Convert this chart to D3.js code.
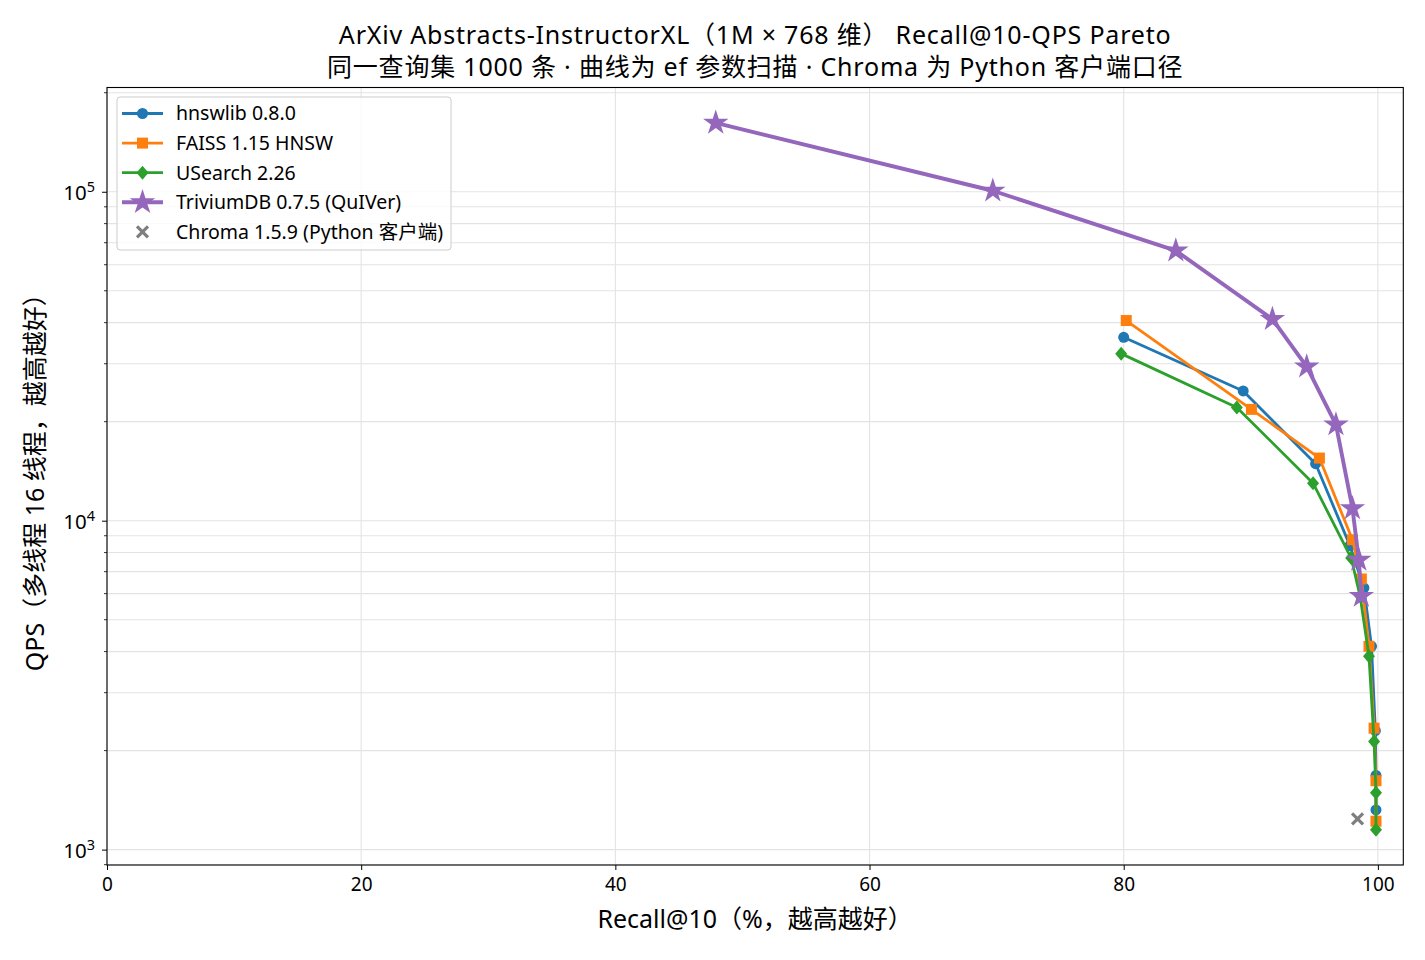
<!DOCTYPE html>
<html>
<head>
<meta charset="utf-8">
<script src="https://cdn.jsdelivr.net/npm/d3@7"></script>
<style>
  body { margin: 0; background: #fff; }
  text { font-family: "Noto Sans", "Noto Sans CJK SC", sans-serif; fill: #000; }
</style>
</head>
<body>
<div id="chart"></div>
<script>
// données (recall en %, qps)
const hnswRecall  = [80.0, 89.4, 95.1, 97.8, 98.9, 99.5, 99.8, 99.85, 99.85];
const hnswQps     = [36100, 24800, 14900, 8400, 6250, 4150, 2300, 1680, 1320];
const faissRecall = [80.2, 90.05, 95.4, 98.0, 98.7, 99.3, 99.7, 99.85, 99.85];
const faissQps    = [40600, 21800, 15500, 8750, 6650, 4150, 2340, 1620, 1220];
const usearchRecall = [79.8, 88.9, 94.9, 97.9, 98.6, 99.3, 99.7, 99.85, 99.85];
const usearchQps    = [32200, 22100, 13000, 7700, 5900, 3870, 2130, 1490, 1150];
const triviumRecall = [47.9, 69.7, 84.1, 91.7, 94.4, 96.7, 98.0, 98.5, 98.7];
const triviumQps    = [162000, 100700, 66200, 41000, 29400, 19600, 10900, 7600, 5900];
const chromaRecall = [98.4];
const chromaQps    = [1240];

const xTicks = [0, 20, 40, 60, 80, 100];
const yTicks = [1000, 10000, 100000];

const margin = {top: 87.5, right: 21.7, bottom: 95, left: 107},
    width = 1425 - margin.left - margin.right,
    height = 960 - margin.top - margin.bottom;

const series = [
  {name: "hnswlib 0.8.0", rec: hnswRecall, qps: hnswQps, color: "#1f77b4", marker: "circle", lw: 2.8},
  {name: "FAISS 1.15 HNSW", rec: faissRecall, qps: faissQps, color: "#ff7f0e", marker: "square", lw: 2.8},
  {name: "USearch 2.26", rec: usearchRecall, qps: usearchQps, color: "#2ca02c", marker: "diamond", lw: 2.8},
  {name: "TriviumDB 0.7.5 (QuIVer)", rec: triviumRecall, qps: triviumQps, color: "#9467bd", marker: "star", lw: 3.9},
  {name: "Chroma 1.5.9 (Python 客户端)", rec: chromaRecall, qps: chromaQps, color: "#7f7f7f", marker: "x", lw: 0}
];

// marges auto façon matplotlib sur l'échelle log
const allQ = series.flatMap(s => s.qps);
const lmin = Math.log10(d3.min(allQ)), lmax = Math.log10(d3.max(allQ));
const pad = (lmax - lmin) * 0.05;

const x = d3.scaleLinear().domain([0, 102]).range([0, width]);
const y = d3.scaleLog().domain([Math.pow(10, lmin - pad), Math.pow(10, lmax + pad)]).range([height, 0]);

const svg = d3.select("#chart").append("svg")
    .attr("width", 1425)
    .attr("height", 960);

const g = svg.append("g")
    .attr("transform", "translate(" + margin.left + "," + margin.top + ")");

// ticks mineurs 2..9 x 10^k
const minor = [];
for (let k = 2; k <= 5; k++) {
  for (let m = 2; m <= 9; m++) {
    const v = m * Math.pow(10, k);
    if (v >= y.domain()[0] && v <= y.domain()[1]) minor.push(v);
  }
}

// grille
const grid = g.append("g").attr("stroke", "#e3e3e3").attr("stroke-width", 1.1);
grid.selectAll(".gx").data(xTicks).enter().append("line")
    .attr("x1", d => x(d)).attr("x2", d => x(d))
    .attr("y1", 0).attr("y2", height);
grid.selectAll(".gy").data(yTicks.concat(minor)).enter().append("line")
    .attr("x1", 0).attr("x2", width)
    .attr("y1", d => y(d)).attr("y2", d => y(d));

// axes
const xAxis = g.append("g")
    .attr("transform", "translate(0," + height + ")")
    .call(d3.axisBottom(x).tickValues(xTicks).tickSize(5).tickPadding(8).tickFormat(d3.format("d")));
xAxis.select(".domain").remove();
xAxis.selectAll("text").style("font-size", "19px");

const yAxis = g.append("g")
    .call(d3.axisLeft(y).tickValues(yTicks).tickSize(5).tickPadding(5).tickFormat(""));
yAxis.select(".domain").remove();
yAxis.selectAll(".tick").append("text")
    .attr("x", -12).attr("dy", "0.4em")
    .attr("text-anchor", "end")
    .style("font-size", "20.5px")
    .each(function(d) {
      const t = d3.select(this);
      t.append("tspan").text("10");
      t.append("tspan").attr("dy", "-0.6em").style("font-size", "14.5px").text(Math.round(Math.log10(d)));
    });
g.append("g").selectAll("line").data(minor).enter().append("line")
    .attr("x1", 0).attr("x2", -3)
    .attr("y1", d => y(d)).attr("y2", d => y(d))
    .attr("stroke", "#000").attr("stroke-width", 0.8);
g.selectAll(".tick line").attr("stroke", "#000").attr("stroke-width", 1);

// cadre
g.append("rect")
    .attr("width", width).attr("height", height)
    .attr("fill", "none").attr("stroke", "#000").attr("stroke-width", 1.1);

// symboles
const star = d3.symbol().type(d3.symbolStar).size(200);
function drawMarker(sel, s, cx, cy) {
  if (s.marker === "circle") {
    sel.append("circle").attr("cx", cx).attr("cy", cy).attr("r", 5.5).attr("fill", s.color);
  } else if (s.marker === "square") {
    sel.append("rect").attr("x", cx - 5.5).attr("y", cy - 5.5).attr("width", 11).attr("height", 11).attr("fill", s.color);
  } else if (s.marker === "diamond") {
    sel.append("path").attr("d", "M" + cx + "," + (cy - 7) + "L" + (cx + 6) + "," + cy + "L" + cx + "," + (cy + 7) + "L" + (cx - 6) + "," + cy + "Z").attr("fill", s.color);
  } else if (s.marker === "star") {
    sel.append("path").attr("d", star()).attr("transform", "translate(" + cx + "," + cy + ")").attr("fill", s.color);
  } else if (s.marker === "x") {
    const r = 5.5;
    sel.append("path")
      .attr("d", "M" + (cx - r) + "," + (cy - r) + "L" + (cx + r) + "," + (cy + r) + "M" + (cx + r) + "," + (cy - r) + "L" + (cx - r) + "," + (cy + r))
      .attr("stroke", s.color).attr("stroke-width", 3.2).attr("fill", "none");
  }
}

const line = d3.line().x(d => x(d[0])).y(d => y(d[1]));

const plot = g.append("g");
series.forEach(s => {
  const pts = s.rec.map((r, i) => [r, s.qps[i]]);
  const sg = plot.append("g");
  if (s.lw > 0) {
    sg.append("path").datum(pts)
      .attr("d", line)
      .attr("fill", "none")
      .attr("stroke", s.color)
      .attr("stroke-width", s.lw)
      .attr("stroke-linejoin", "round");
  }
  pts.forEach(p => drawMarker(sg, s, x(p[0]), y(p[1])));
});

// légende
const leg = g.append("g").attr("transform", "translate(10,9.5)");
leg.append("rect")
    .attr("width", 334).attr("height", 153).attr("rx", 3)
    .attr("fill", "#fff").attr("fill-opacity", 0.8)
    .attr("stroke", "#cccccc").attr("stroke-width", 1);
series.forEach((s, i) => {
  const ly = 16.5 + i * 29.6;
  const lg = leg.append("g");
  if (s.lw > 0) {
    lg.append("line").attr("x1", 5).attr("x2", 46).attr("y1", ly).attr("y2", ly)
      .attr("stroke", s.color).attr("stroke-width", s.lw);
  }
  drawMarker(lg, s, 25.5, ly);
  lg.append("text").attr("x", 59).attr("y", ly).attr("dy", "0.35em")
    .style("font-size", "19.5px").text(s.name);
});

// titres
svg.append("text")
    .attr("x", margin.left + width / 2).attr("y", 44)
    .attr("text-anchor", "middle").style("font-size", "25px").style("letter-spacing", "0.8px")
    .text("ArXiv Abstracts-InstructorXL（1M × 768 维） Recall@10-QPS Pareto");
svg.append("text")
    .attr("x", margin.left + width / 2).attr("y", 75.5)
    .attr("text-anchor", "middle").style("font-size", "25px").style("letter-spacing", "0.8px")
    .text("同一查询集 1000 条 · 曲线为 ef 参数扫描 · Chroma 为 Python 客户端口径");

svg.append("text")
    .attr("x", margin.left + width / 2).attr("y", 928)
    .attr("text-anchor", "middle").style("font-size", "25px")
    .text("Recall@10（%，越高越好）");

svg.append("text")
    .attr("transform", "translate(44," + (margin.top + height / 2) + ") rotate(-90)")
    .attr("text-anchor", "middle").style("font-size", "25px")
    .text("QPS（多线程 16 线程，越高越好）");
</script>
</body>
</html>
